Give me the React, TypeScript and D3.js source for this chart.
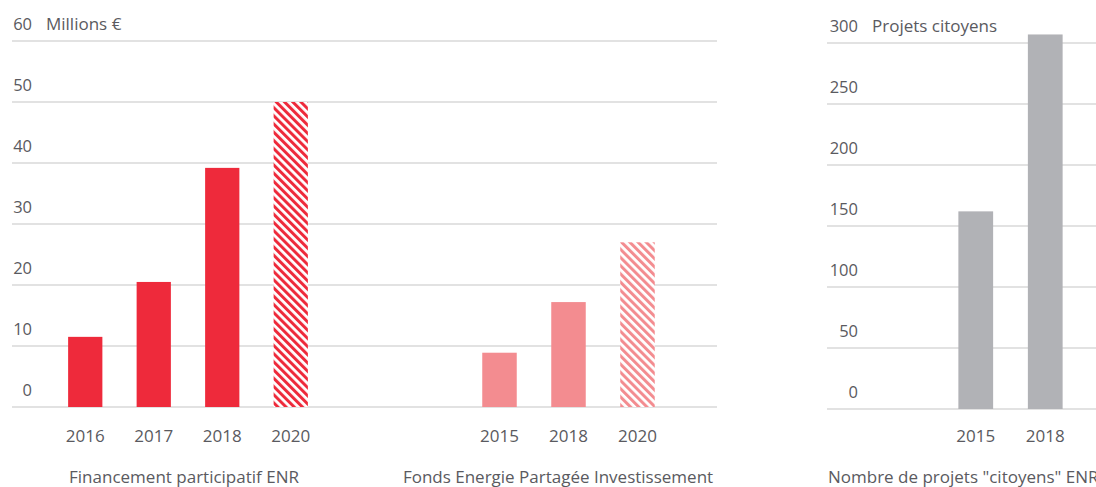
import React from "react";
import * as d3 from "d3";

const W = 1096;
const H = 487;

const crowdYears = ["2016", "2017", "2018", "2020"];
const crowdValues = [11.5, 20.5, 39.2, 50];
const crowdForecast = [false, false, false, true];

const fundYears = ["2015", "2018", "2020"];
const fundValues = [8.9, 17.2, 27];
const fundForecast = [false, false, true];

const projYears = ["2015", "2018"];
const projValues = [162, 307];

const euroTicks = [0, 10, 20, 30, 40, 50, 60];
const projTicks = [0, 50, 100, 150, 200, 250, 300];

const RED = "#EE2A3B";
const PINK = "#F38C90";
const GREY = "#B1B2B6";
const GRID = "#E2E2E2";
const TEXT = "#5A5A60";
const FONT = "'Open Sans', 'Noto Sans', sans-serif";

export default function App() {
  const yL = d3.scaleLinear().domain([0, 60]).range([407, 41]);
  const yR = d3.scaleLinear().domain([0, 300]).range([409, 43]);

  const xCrowd = d3.scaleBand().domain(crowdYears).range([51, 325]).paddingInner(0.5).paddingOuter(0.25);
  const xFund = d3.scaleBand().domain(fundYears).range([465, 672]).paddingInner(0.5).paddingOuter(0.25);
  const xProj = d3.scaleBand().domain(projYears).range([941, 1080]).paddingInner(0.5).paddingOuter(0.25);

  const barsOf = (
    years: string[],
    values: number[],
    forecast: boolean[],
    x: d3.ScaleBand<string>,
    y: d3.ScaleLinear<number, number>,
    color: string,
    hatch: string
  ) =>
    years.map((yr, i) => {
      const x0 = x(yr) as number;
      const bw = x.bandwidth();
      return (
        <rect
          key={yr}
          x={x0}
          y={y(values[i])}
          width={bw}
          height={y(0) - y(values[i])}
          fill={forecast[i] ? `url(#${hatch})` : color}
        />
      );
    });

  const yearLabels = (years: string[], x: d3.ScaleBand<string>) =>
    years.map((yr) => (
      <text
        key={yr}
        x={(x(yr) as number) + x.bandwidth() / 2}
        y={442}
        textAnchor="middle"
        fontSize={17}
        fill={TEXT}
      >
        {yr}
      </text>
    ));

  return (
    <svg
      width={W}
      height={H}
      style={{ position: "absolute", left: 0, top: 0, background: "#fff" }}
      fontFamily={FONT}
    >
      <defs>
        <pattern id="hatchRed" patternUnits="userSpaceOnUse" width={5.8} height={10} patternTransform="rotate(-45)">
          <rect x={0} y={0} width={5.8} height={10} fill="#fff" />
          <rect x={0} y={0} width={3} height={10} fill={RED} />
        </pattern>
        <pattern id="hatchPink" patternUnits="userSpaceOnUse" width={5.8} height={10} patternTransform="rotate(-45)">
          <rect x={0} y={0} width={5.8} height={10} fill="#fff" />
          <rect x={0} y={0} width={3} height={10} fill={PINK} />
        </pattern>
      </defs>

      {/* Left grid */}
      {euroTicks.map((t) => (
        <g key={"l" + t}>
          <line x1={12} x2={717} y1={yL(t)} y2={yL(t)} stroke={GRID} strokeWidth={2} />
          <text x={32} y={yL(t) - 11} textAnchor="end" fontSize={16.5} fill={TEXT}>
            {t}
          </text>
        </g>
      ))}
      <text x={46} y={30} fontSize={17} fill={TEXT}>
        Millions €
      </text>

      {/* Right grid */}
      {projTicks.map((t) => (
        <g key={"r" + t}>
          <line x1={827} x2={W} y1={yR(t)} y2={yR(t)} stroke={GRID} strokeWidth={2} />
          <text x={858} y={yR(t) - 11} textAnchor="end" fontSize={16.5} fill={TEXT}>
            {t}
          </text>
        </g>
      ))}
      <text x={872} y={32} fontSize={17} fill={TEXT}>
        Projets citoyens
      </text>

      {barsOf(crowdYears, crowdValues, crowdForecast, xCrowd, yL, RED, "hatchRed")}
      {barsOf(fundYears, fundValues, fundForecast, xFund, yL, PINK, "hatchPink")}
      {barsOf(projYears, projValues, [false, false], xProj, yR, GREY, "hatchRed")}

      {yearLabels(crowdYears, xCrowd)}
      {yearLabels(fundYears, xFund)}
      {yearLabels(projYears, xProj)}

      <text x={184} y={483} textAnchor="middle" fontSize={17} fill={TEXT}>
        Financement participatif ENR
      </text>
      <text x={558} y={483} textAnchor="middle" fontSize={17} fill={TEXT}>
        Fonds Energie Partagée Investissement
      </text>
      <text x={828} y={483} fontSize={17} fill={TEXT}>
        Nombre de projets "citoyens" ENR
      </text>
    </svg>
  );
}
